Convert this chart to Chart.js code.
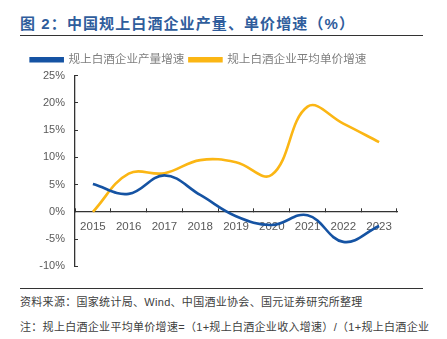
<!DOCTYPE html>
<html>
<head>
<meta charset="utf-8">
<script src="https://cdn.jsdelivr.net/npm/chart.js@4"></script>
<style>
  body { margin: 0; background: #fff; }
  #wrap { position: relative; width: 447px; height: 339px; overflow: hidden; font-family: "Liberation Sans", "Noto Sans CJK SC", sans-serif; }
  .title { position: absolute; left: 20px; top: 12px; font-size: 15px; font-weight: bold; color: #2f5d9c; letter-spacing: 1.1px; white-space: nowrap; }
  .rule { position: absolute; left: 20px; width: 403px; height: 1px; background: #333; }
  .note { position: absolute; left: 20px; font-size: 11px; color: #404040; letter-spacing: 0.3px; white-space: nowrap; }
  #box { position: absolute; left: 0; top: 41px; width: 447px; height: 245px; }
</style>
</head>
<body>
<div id="wrap">
  <div class="title">图 2：中国规上白酒企业产量、单价增速（%）</div>
  <div class="rule" style="top:35px"></div>
  <div id="box"><canvas id="c"></canvas></div>
  <div class="rule" style="top:288px"></div>
  <div class="note" style="top:293px">资料来源：国家统计局、Wind、中国酒业协会、国元证券研究所整理</div>
  <div class="note" style="top:318px">注：规上白酒企业平均单价增速=（1+规上白酒企业收入增速）/（1+规上白酒企业</div>
</div>
<script>
// data (%)
const years = ['2015', '2016', '2017', '2018', '2019', '2020', '2021', '2022', '2023'];
const outputGrowth = [5.1, 3.3, 6.7, 3.1, -0.8, -2.4, -0.6, -5.5, -2.6];
const priceGrowth = [0, 7.0, 7.1, 9.5, 9.1, 6.8, 19.3, 16.2, 12.8];
const yTicks = [-10, -5, 0, 5, 10, 15, 20, 25];

const cjk = '"Liberation Sans", "Noto Sans CJK SC", sans-serif';

new Chart(document.getElementById('c'), {
  type: 'line',
  data: {
    labels: years,
    datasets: [
      {
        label: '规上白酒企业产量增速',
        data: outputGrowth,
        borderColor: '#1553a3',
        backgroundColor: '#1553a3',
        borderWidth: 2.6,
        tension: 0.4,
        pointRadius: 0,
      },
      {
        label: '规上白酒企业平均单价增速',
        data: priceGrowth,
        borderColor: '#fbb614',
        backgroundColor: '#fbb614',
        borderWidth: 2.6,
        tension: 0.4,
        pointRadius: 0,
      },
    ],
  },
  options: {
    responsive: true,
    maintainAspectRatio: false,
    animation: false,
    layout: { padding: { top: 8, right: 50, bottom: 17, left: 0 } },
    plugins: {
      tooltip: { enabled: false },
      legend: {
        position: 'top',
        labels: {
          boxWidth: 32,
          boxHeight: 3,
          padding: 5,
          color: '#7f7f7f',
          font: { family: cjk, size: 11.6 },
        },
      },
    },
    scales: {
      x: {
        type: 'category',
        offset: true,
        position: { y: 0 },
        afterFit: s => { s.height = 0; },
        grid: { offset: true, drawOnChartArea: false, tickLength: -4, color: '#333', lineWidth: 1 },
        border: { color: '#333', width: 1.3 },
        ticks: { color: '#595959', padding: 12, font: { family: cjk, size: 11.5 }, maxRotation: 0 },
      },
      y: {
        min: -10,
        max: 25,
        afterBuildTicks: s => { s.ticks = yTicks.map(v => ({ value: v })); },
        afterFit: s => { s.width = 75; },
        grid: { drawOnChartArea: false, tickLength: -3, color: '#333', lineWidth: 1 },
        border: { color: '#333', width: 1.3 },
        ticks: { color: '#595959', padding: 13, font: { family: cjk, size: 11 }, callback: v => v + '%' },
      },
    },
  },
});
</script>
</body>
</html>
